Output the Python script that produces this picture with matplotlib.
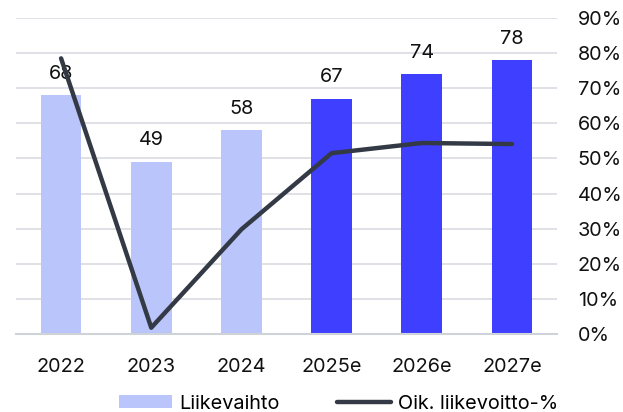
import matplotlib
matplotlib.use("Agg")
import matplotlib.pyplot as plt
from matplotlib.ticker import FuncFormatter
from matplotlib.patches import Patch
from matplotlib.lines import Line2D

plt.rcParams['font.family'] = ['Inter', 'DejaVu Sans']

categories = ["2022", "2023", "2024", "2025e", "2026e", "2027e"]
revenue = [68, 49, 58, 67, 74, 78]
margin_pct = [78.5, 1.8, 29.8, 51.5, 54.4, 54.1]
bar_colors = ["#b9c5fb", "#b9c5fb", "#b9c5fb", "#3f3fff", "#3f3fff", "#3f3fff"]
pct_ticks = [0, 10, 20, 30, 40, 50, 60, 70, 80, 90]

fig = plt.figure(figsize=(6.23, 4.12), dpi=100)
ax = fig.add_axes([16/623, 78/412, 541/623, 316/412])
x = list(range(len(categories)))

ax.bar(x, revenue, width=0.45, color=bar_colors, zorder=2)
for xi, v in zip(x, revenue):
    ax.annotate(str(v), (xi, v), xytext=(0, 9), textcoords='offset points',
                ha='center', va='bottom', fontsize=14.3, color='#111111', zorder=3)
ax.set_ylim(0, 90)
ax.set_xlim(-0.5, len(categories) - 0.5)
ax.set_xticks(x)
ax.set_xticklabels(categories, fontsize=14.3, color='#111111')
ax.tick_params(axis='x', length=0, pad=17)
ax.tick_params(axis='y', left=False, labelleft=False, length=0)
ax.set_yticks(pct_ticks)
ax.grid(axis='y', color='#d9dce3', linewidth=1.2, zorder=0)
for s in ['top', 'right', 'left']:
    ax.spines[s].set_visible(False)
ax.spines['bottom'].set_color('#cfd2d8')
ax.spines['bottom'].set_linewidth(1.5)

ax2 = ax.twinx()
ax2.plot(x, margin_pct, color='#333a46', linewidth=3.2, solid_capstyle='round',
         solid_joinstyle='round', zorder=4, label='Oik. liikevoitto-%')
ax2.set_ylim(0, 90)
ax2.set_yticks(pct_ticks)
ax2.yaxis.set_major_formatter(FuncFormatter(lambda v, p: f"{v:.0f}%"))
ax2.tick_params(axis='y', length=0, pad=15, labelsize=14.3, labelcolor='#111111')
for s in ['top', 'right', 'left', 'bottom']:
    ax2.spines[s].set_visible(False)

handles = [Patch(facecolor='#b9c5fb', edgecolor='none'),
           Line2D([0], [0], color='#333a46', linewidth=3.2, solid_capstyle='round')]
labels = ['Liikevaihto', 'Oik. liikevoitto-%']
fig.legend(handles, labels, loc='lower center', bbox_to_anchor=(0.543, -0.045), ncol=2,
           frameon=False, fontsize=14.3, handlelength=2.7, handleheight=0.6,
           handletextpad=0.35, columnspacing=2.9)

fig.savefig("out.png", dpi=100)
